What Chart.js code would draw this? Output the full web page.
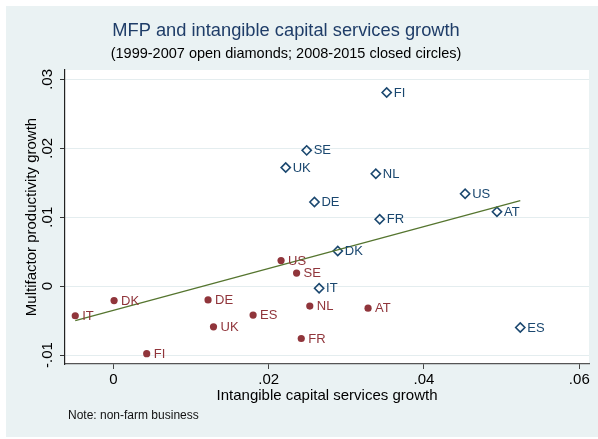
<!DOCTYPE html>
<html>
<head>
<meta charset="utf-8">
<script src="https://cdn.jsdelivr.net/npm/chart.js@4"></script>
<style>
  body { margin: 0; background: #fff; }
  #wrap { width: 598px; height: 439px; }
</style>
</head>
<body>
<div id="wrap"><canvas id="grafico" width="598" height="439"></canvas></div>
<script>
// 1999-2007 (open diamonds)
const paises1 = ['FI', 'SE', 'UK', 'NL', 'DE', 'US', 'AT', 'FR', 'DK', 'IT', 'ES'];
const intang1 = [0.0352, 0.0249, 0.0222, 0.0338, 0.0259, 0.0453, 0.0494, 0.0343, 0.0289, 0.0265, 0.0524];
const mfp1    = [0.0281, 0.0197, 0.0172, 0.0163, 0.0122, 0.0134, 0.0108, 0.0097, 0.0051, -0.0003, -0.0060];

// 2008-2015 (closed circles)
const paises2 = ['IT', 'DK', 'FI', 'DE', 'UK', 'ES', 'US', 'SE', 'NL', 'AT', 'FR'];
const intang2 = [-0.0049, 0.0001, 0.0043, 0.0122, 0.0129, 0.0180, 0.0216, 0.0236, 0.0253, 0.0328, 0.0242];
const mfp2    = [-0.0043, -0.0021, -0.0098, -0.0020, -0.0059, -0.0042, 0.0037, 0.0019, -0.0029, -0.0032, -0.0076];

// fitted line end points
const ajusteX = [-0.0049, 0.0524];
const ajusteY = [-0.0050, 0.0124];

const ticksX = [0, 0.02, 0.04, 0.06];
const ticksY = [-0.01, 0, 0.01, 0.02, 0.03];

const FONTE = "'Liberation Sans', Arial, sans-serif";
const AZUL = '#1a476f';
const VERMELHO = '#90353b';
const VERDE = '#55752f';
const FUNDO = '#eaf2f3';

function fmt(v) {
    if (Math.abs(v) < 1e-9) return '0';
    let s = v.toFixed(2);
    return s.replace('0.', '.');
}

const pontos = (xs, ys) => xs.map((x, i) => ({x: x, y: ys[i]}));

const fundoPlugin = {
    id: 'fundo',
    beforeDraw(chart) {
        const ctx = chart.ctx;
        const a = chart.chartArea;
        ctx.save();
        ctx.fillStyle = '#fff';
        ctx.fillRect(0, 0, chart.width, chart.height);
        ctx.fillStyle = FUNDO;
        ctx.fillRect(6, 6, chart.width - 6, 431);
        ctx.fillStyle = '#fff';
        ctx.fillRect(a.left - 1, a.top, a.right - a.left + 1, a.bottom - a.top);
        ctx.restore();
    },
    afterDraw(chart) {
        const ctx = chart.ctx;
        ctx.save();
        ctx.textAlign = 'center';
        ctx.textBaseline = 'middle';
        ctx.fillStyle = '#1f3d68';
        ctx.font = '18.3px ' + FONTE;
        ctx.fillText('MFP and intangible capital services growth', 286, 31);
        ctx.fillStyle = '#000';
        ctx.font = '14.5px ' + FONTE;
        ctx.fillText('(1999-2007 open diamonds; 2008-2015 closed circles)', 286, 54);

        // y tick labels, rotated as in the original
        const sy = chart.scales.y;
        ctx.font = '15px ' + FONTE;
        ticksY.forEach(v => {
            ctx.save();
            ctx.translate(47.5, sy.getPixelForValue(v));
            ctx.rotate(-Math.PI / 2);
            ctx.fillText(fmt(v), 0, 0);
            ctx.restore();
        });

        ctx.textAlign = 'left';
        ctx.font = '12px ' + FONTE;
        ctx.fillStyle = '#111';
        ctx.fillText('Note: non-farm business', 68, 416);
        ctx.restore();
    }
};

const rotulosPlugin = {
    id: 'rotulos',
    afterDatasetsDraw(chart) {
        const ctx = chart.ctx;
        ctx.save();
        ctx.font = '13px ' + FONTE;
        ctx.textAlign = 'left';
        ctx.textBaseline = 'middle';
        chart.data.datasets.forEach((ds, i) => {
            if (!ds.rotulos) return;
            ctx.fillStyle = ds.borderColor;
            chart.getDatasetMeta(i).data.forEach((el, j) => {
                ctx.fillText(ds.rotulos[j], el.x + 7, el.y + 0.5);
            });
        });
        ctx.restore();
    }
};

new Chart(document.getElementById('grafico').getContext('2d'), {
    type: 'scatter',
    data: {
        datasets: [
            {
                label: 'Fit',
                type: 'line',
                data: pontos(ajusteX, ajusteY),
                borderColor: VERDE,
                borderWidth: 1.3,
                pointRadius: 0,
                fill: false,
                order: 0
            },
            {
                label: '1999-2007',
                data: pontos(intang1, mfp1),
                rotulos: paises1,
                pointStyle: 'rectRot',
                pointRadius: 4.6,
                borderColor: AZUL,
                backgroundColor: 'rgba(0,0,0,0)',
                borderWidth: 1.6,
                order: 2
            },
            {
                label: '2008-2015',
                data: pontos(intang2, mfp2),
                rotulos: paises2,
                pointStyle: 'circle',
                pointRadius: 3.6,
                borderColor: VERMELHO,
                backgroundColor: VERMELHO,
                borderWidth: 0,
                order: 1
            }
        ]
    },
    options: {
        responsive: false,
        animation: false,
        events: [],
        layout: { padding: { left: 0, right: 9, top: 70, bottom: 0 } },
        plugins: {
            legend: { display: false },
            tooltip: { enabled: false }
        },
        scales: {
            x: {
                type: 'linear',
                min: -0.00622,
                max: 0.06125,
                afterBuildTicks: s => { s.ticks = ticksX.map(v => ({value: v})); },
                afterFit: s => { s.height = 75; },
                ticks: {
                    callback: v => fmt(v),
                    color: '#000',
                    font: { family: FONTE, size: 15 },
                    padding: 2,
                    maxRotation: 0
                },
                grid: {
                    display: true,
                    drawOnChartArea: false,
                    drawTicks: true,
                    tickLength: 5,
                    tickColor: '#444'
                },
                border: { display: true, color: '#555', width: 1.2 },
                title: {
                    display: true,
                    text: 'Intangible capital services growth',
                    color: '#000',
                    font: { family: FONTE, size: 15 },
                    padding: { top: 0, bottom: 34.3 }
                }
            },
            y: {
                type: 'linear',
                min: -0.0113,
                max: 0.03136,
                afterBuildTicks: s => { s.ticks = ticksY.map(v => ({value: v})); },
                afterFit: s => { s.width = 65; },
                ticks: { display: false },
                grid: {
                    display: true,
                    drawOnChartArea: true,
                    color: '#e4edef',
                    lineWidth: 1,
                    drawTicks: true,
                    tickLength: 5,
                    tickColor: '#333'
                },
                border: { display: true, color: '#222', width: 1.2 },
                title: {
                    display: true,
                    text: 'Multifactor productivity growth',
                    color: '#000',
                    font: { family: FONTE, size: 15 },
                    padding: { top: 23, bottom: 0 }
                }
            }
        }
    },
    plugins: [fundoPlugin, rotulosPlugin]
});
</script>
</body>
</html>
